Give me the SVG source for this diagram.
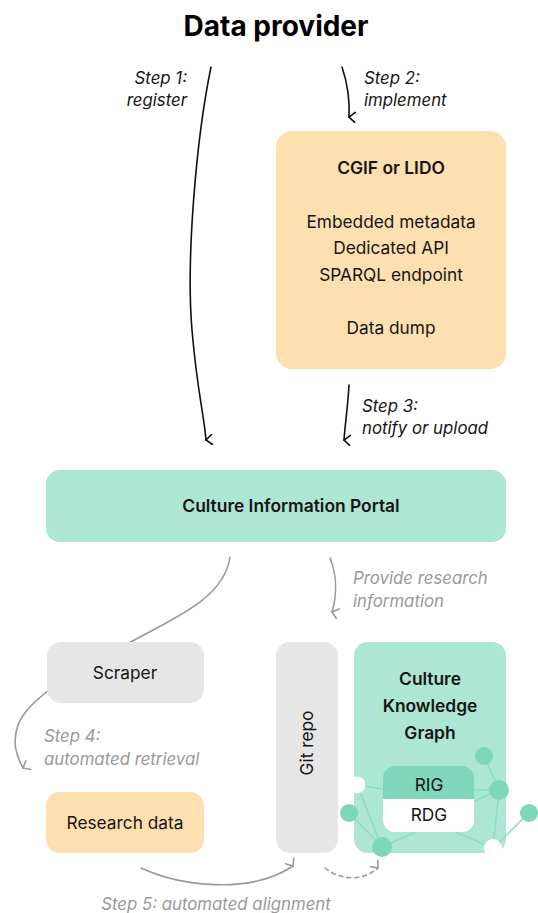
<svg xmlns="http://www.w3.org/2000/svg" width="538" height="913" viewBox="0 0 538 913">
  <defs>
    <style>
      text { font-family: Inter, "Liberation Sans", sans-serif; fill: #151515; }
      .title { font-size: 28px; font-weight: 700; fill: #000; }
      .bold { font-size: 17.4px; font-weight: 600; }
      .reg { font-size: 17.3px; font-weight: 400; }
      .step { font-size: 16.8px; font-style: italic; }
      .stepg { font-size: 16.8px; font-style: italic; fill: #999; }
      .mid { text-anchor: middle; }
      .end { text-anchor: end; }
      .peach { fill: #fddfb0; }
      .mint { fill: #ade6d2; }
      .grey { fill: #e6e6e6; }
      .dark { fill: none; stroke: #111; stroke-width: 1.6; stroke-linecap: round; }
      .soft { fill: none; stroke: #999; stroke-width: 1.6; stroke-linecap: round; }
      .dash { stroke-dasharray: 4 4; }
      .net { stroke: #8fdcc4; stroke-width: 1.5; }
      .dot { fill: #7fd6bb; }
      .hole { fill: #fff; }
    </style>
    <marker id="headDark" viewBox="0 0 12 12" refX="6" refY="10" markerWidth="12" markerHeight="12" markerUnits="userSpaceOnUse" orient="auto-start-reverse">
      <path d="M1,4 L6,10 L11,4" fill="none" stroke="#111" stroke-width="1.6" stroke-linecap="round"/>
    </marker>
    <marker id="headSoft" viewBox="0 0 12 12" refX="6" refY="10" markerWidth="12" markerHeight="12" markerUnits="userSpaceOnUse" orient="auto-start-reverse">
      <path d="M1,4 L6,10 L11,4" fill="none" stroke="#999" stroke-width="1.6" stroke-linecap="round"/>
    </marker>
  </defs>

  <rect width="538" height="913" fill="#fff"/>

  <!-- connectors -->
  <g id="connectors">
    <!-- step 1: register -->
    <path class="dark" d="M211,67 C196,140 186,260 192,330 C197,390 204,415 206,440" marker-end="url(#headDark)"/>
    <!-- step 2: implement -->
    <path class="dark" d="M342,67 C347,82 350,100 349,117" marker-end="url(#headDark)"/>
    <!-- step 3: notify or upload -->
    <path class="dark" d="M349,385 C348,405 345,425 344,440" marker-end="url(#headDark)"/>
    <!-- portal to scraper, continuing as step 4 -->
    <path class="soft" d="M230,557 C224,600 170,620 125,645 C80,670 30,695 18,725 C12,742 16,755 23,768" marker-end="url(#headSoft)"/>
    <!-- provide research information -->
    <path class="soft" d="M330,558 C337,575 337,595 332,612" marker-end="url(#headSoft)"/>
    <!-- step 5: automated alignment -->
    <path class="soft" d="M141,868 C180,886 250,895 293,866" marker-end="url(#headSoft)"/>
    <!-- git repo to knowledge graph -->
    <path class="soft dash" d="M325,868 C340,880 362,882 378,868" marker-end="url(#headSoft)"/>
  </g>

  <g id="provider">
    <text class="title mid" x="276" y="36">Data provider</text>
  </g>

  <g id="step-labels">
    <text class="step end" x="187" y="84">Step 1:</text>
    <text class="step end" x="187" y="106">register</text>
    <text class="step" x="364" y="84">Step 2:</text>
    <text class="step" x="364" y="106">implement</text>
    <text class="step" x="362" y="412">Step 3:</text>
    <text class="step" x="362" y="434">notify or upload</text>
    <text class="stepg" x="353" y="584">Provide research</text>
    <text class="stepg" x="353" y="607">information</text>
    <text class="stepg" x="44" y="742">Step 4:</text>
    <text class="stepg" x="44" y="765">automated retrieval</text>
    <text class="stepg mid" x="216" y="910">Step 5: automated alignment</text>
  </g>

  <g id="cgif">
    <rect class="peach" x="276" y="131" width="230" height="238" rx="16"/>
    <text class="bold mid" x="391" y="174">CGIF or LIDO</text>
    <text class="reg mid" x="391" y="228">Embedded metadata</text>
    <text class="reg mid" x="391" y="254">Dedicated API</text>
    <text class="reg mid" x="391" y="281">SPARQL endpoint</text>
    <text class="reg mid" x="391" y="334">Data dump</text>
  </g>

  <g id="portal">
    <rect class="mint" x="46" y="470" width="460" height="72" rx="14"/>
    <text class="bold mid" x="291" y="512">Culture Information Portal</text>
  </g>

  <g id="scraper">
    <rect class="grey" x="47" y="642" width="157" height="61" rx="14"/>
    <text class="reg mid" x="125" y="679">Scraper</text>
  </g>

  <g id="research-data">
    <rect class="peach" x="46" y="792" width="158" height="61" rx="14"/>
    <text class="reg mid" x="125" y="829">Research data</text>
  </g>

  <g id="git-repo">
    <rect class="grey" x="276" y="642" width="62" height="211" rx="14"/>
    <text class="reg mid" transform="translate(313,743) rotate(-90)" x="0" y="0">Git repo</text>
  </g>

  <g id="knowledge-graph">
    <rect class="mint" x="354" y="642" width="152" height="211" rx="14"/>
    <text class="bold mid" x="430" y="685">Culture</text>
    <text class="bold mid" x="430" y="712">Knowledge</text>
    <text class="bold mid" x="430" y="739">Graph</text>
    <!-- network edges -->
    <g class="net">
      <line x1="357" y1="785" x2="390" y2="790"/>
      <line x1="357" y1="785" x2="382" y2="847"/>
      <line x1="349" y1="813" x2="382" y2="847"/>
      <line x1="382" y1="847" x2="420" y2="830"/>
      <line x1="465" y1="790" x2="499" y2="790"/>
      <line x1="465" y1="805" x2="499" y2="790"/>
      <line x1="484" y1="756" x2="499" y2="790"/>
      <line x1="499" y1="790" x2="493" y2="848"/>
      <line x1="455" y1="832" x2="493" y2="848"/>
      <line x1="493" y1="848" x2="529" y2="813"/>
    </g>
    <g id="rig-rdg">
      <path fill="#fff" d="M383,799 H474 V820 a12,12 0 0 1 -12,12 H395 a12,12 0 0 1 -12,-12 Z"/>
      <path class="dot" d="M395,766 H462 a12,12 0 0 1 12,12 V799 H383 V778 a12,12 0 0 1 12,-12 Z"/>
      <text class="reg mid" x="429" y="791">RIG</text>
      <text class="reg mid" x="429" y="821">RDG</text>
    </g>
    <!-- network nodes -->
    <circle class="hole" cx="357" cy="785" r="8.5"/>
    <circle class="dot" cx="349" cy="813" r="9"/>
    <circle class="dot" cx="382" cy="847" r="10"/>
    <circle class="dot" cx="484" cy="756" r="9"/>
    <circle class="dot" cx="499" cy="790" r="10"/>
    <circle class="dot" cx="529" cy="813" r="9"/>
    <circle class="hole" cx="493" cy="848" r="9"/>
  </g>
</svg>
